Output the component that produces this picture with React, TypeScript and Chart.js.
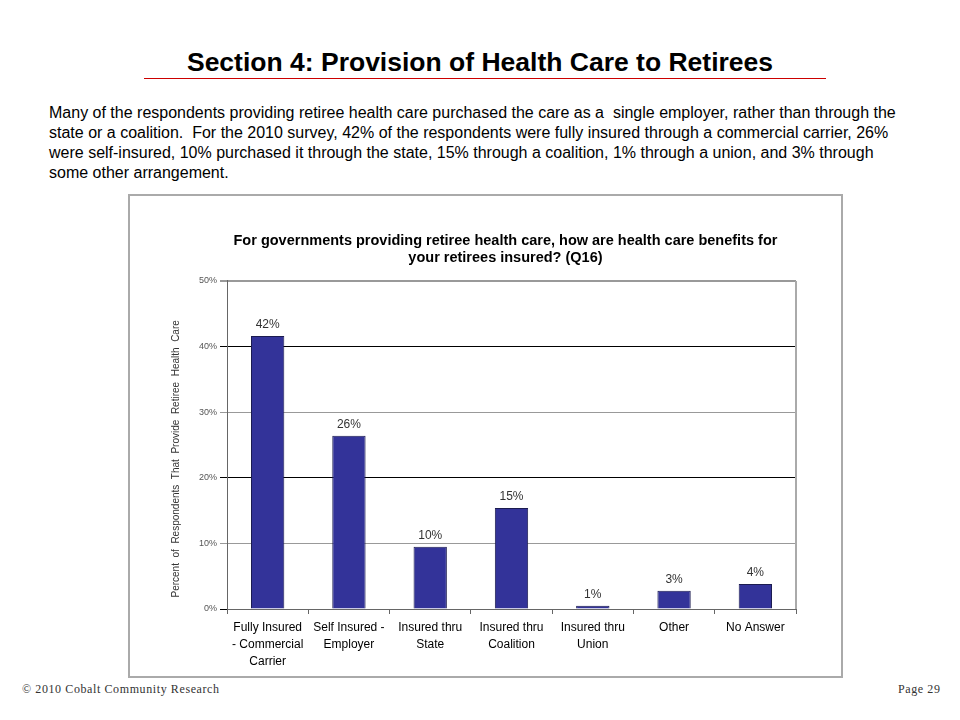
import React, { useEffect, useRef } from "react";
import { Chart, registerables } from "chart.js";

Chart.register(...registerables);

const categories: string[][] = [
  ["Fully Insured", "- Commercial", "Carrier"],
  ["Self Insured -", "Employer"],
  ["Insured thru", "State"],
  ["Insured thru", "Coalition"],
  ["Insured thru", "Union"],
  ["Other"],
  ["No Answer"],
];
const values: number[] = [41.6, 26.4, 9.5, 15.4, 0.5, 2.8, 3.8];
const valueLabels: string[] = ["42%", "26%", "10%", "15%", "1%", "3%", "4%"];
const yTicks: number[] = [0, 10, 20, 30, 40, 50];

const chartTitle = [
  "For governments providing retiree health care, how are health care benefits for   ",
  "your retirees insured? (Q16)   ",
];
const yTitle =
  "Percent  of  Respondents  That  Provide  Retiree  Health  Care          ";

const paragraphLines = [
  "Many of the respondents providing retiree health care purchased the care as a  single employer, rather than through the",
  "state or a coalition.  For the 2010 survey, 42% of the respondents were fully insured through a commercial carrier, 26%",
  "were self-insured, 10% purchased it through the state, 15% through a coalition, 1% through a union, and 3% through",
  "some other arrangement.",
];

const FONT = "'Liberation Sans', Arial, sans-serif";

const labelPlugin = {
  id: "valueLabels",
  afterDatasetsDraw(chart: any) {
    const { ctx } = chart;
    const meta = chart.getDatasetMeta(0);
    ctx.save();
    ctx.font = `12px ${FONT}`;
    ctx.fillStyle = "#333";
    ctx.textAlign = "center";
    ctx.textBaseline = "bottom";
    meta.data.forEach((el: any, i: number) => {
      ctx.fillText(valueLabels[i], el.x, el.y - 5);
    });
    ctx.restore();
  },
};

const borderPlugin = {
  id: "plotRightBorder",
  afterDraw(chart: any) {
    const { ctx, chartArea } = chart;
    ctx.save();
    ctx.strokeStyle = "#aaa";
    ctx.lineWidth = 2;
    ctx.beginPath();
    ctx.moveTo(chartArea.right, chartArea.top);
    ctx.lineTo(chartArea.right, chartArea.bottom);
    ctx.stroke();
    ctx.restore();
  },
};

export default function App() {
  const ref = useRef<HTMLCanvasElement | null>(null);

  useEffect(() => {
    if (!ref.current) return;
    const chart = new Chart(ref.current, {
      type: "bar",
      data: {
        labels: categories,
        datasets: [
          {
            data: values,
            backgroundColor: "#333399",
            borderColor: "#1c1c50",
            borderWidth: 1,
            barPercentage: 0.41,
            categoryPercentage: 1,
          },
        ],
      },
      plugins: [labelPlugin, borderPlugin],
      options: {
        animation: false,
        responsive: false,
        maintainAspectRatio: false,
        layout: { padding: { left: 0, right: 45, top: 0, bottom: 0 } },
        plugins: {
          legend: { display: false },
          tooltip: { enabled: false },
          title: {
            display: true,
            text: chartTitle,
            fullSize: false,
            color: "#000",
            font: { family: FONT, size: 14.5, weight: "bold", lineHeight: 1.17 },
            padding: { top: 36.5, bottom: 14.5 },
          },
        },
        scales: {
          x: {
            afterFit(scale: any) {
              scale.height = 67;
            },
            grid: {
              offset: true,
              drawOnChartArea: false,
              drawTicks: true,
              tickLength: 5,
              color: "#666",
            },
            border: { color: "#666", width: 1 },
            ticks: {
              color: "#000",
              padding: 5,
              maxRotation: 0,
              autoSkip: false,
              font: { family: FONT, size: 12, lineHeight: 1.4167 },
            },
          },
          y: {
            min: 0,
            max: 50,
            afterFit(scale: any) {
              scale.width = 97;
            },
            afterBuildTicks(scale: any) {
              scale.ticks = yTicks.map((v) => ({ value: v }));
            },
            grid: {
              tickLength: 7,
              color: (c: any) =>
                c.tick && c.tick.value % 20 === 0 ? "#000" : "#999",
              lineWidth: (c: any) => (c.tick && c.tick.value === 50 ? 2 : 1),
            },
            border: { color: "#666", width: 1 },
            ticks: {
              color: "#555",
              padding: 3,
              font: { family: FONT, size: 9 },
              callback: (v: any) => `${v}%`,
            },
            title: {
              display: true,
              text: yTitle,
              color: "#333",
              font: { family: FONT, size: 10, lineHeight: 1.2 },
              padding: { top: 40, bottom: 0 },
            },
          },
        },
      },
    });
    return () => chart.destroy();
  }, []);

  return (
    <div
      style={{
        position: "absolute",
        left: 0,
        top: 0,
        width: 960,
        height: 720,
        background: "#fff",
        fontFamily: FONT,
        overflow: "hidden",
      }}
    >
      <div
        style={{
          position: "absolute",
          left: 0,
          top: 46,
          width: 960,
          textAlign: "center",
          fontSize: 26.5,
          fontWeight: "bold",
          lineHeight: "32px",
          color: "#000",
          whiteSpace: "nowrap",
        }}
      >
        Section 4: Provision of Health Care to Retirees
      </div>
      <div
        style={{
          position: "absolute",
          left: 144,
          top: 78,
          width: 682,
          height: 1,
          background: "#cc0000",
        }}
      />
      <div
        style={{
          position: "absolute",
          left: 49,
          top: 103,
          fontSize: 16,
          lineHeight: "20px",
          color: "#000",
          whiteSpace: "pre",
        }}
      >
        {paragraphLines.map((l, i) => (
          <div key={i}>{l}</div>
        ))}
      </div>
      <div
        style={{
          position: "absolute",
          left: 128,
          top: 194,
          width: 711,
          height: 480,
          border: "2px solid #aaa",
          background: "#fff",
        }}
      >
        <canvas
          ref={ref}
          width={711}
          height={480}
          style={{ display: "block", width: 711, height: 480 }}
        />
      </div>
      <div
        style={{
          position: "absolute",
          left: 22,
          top: 682,
          fontFamily: "'Liberation Serif', 'Times New Roman', serif",
          fontSize: 12,
          color: "#333",
          letterSpacing: 0.6,
          whiteSpace: "nowrap",
        }}
      >
        © 2010 Cobalt Community Research
      </div>
      <div
        style={{
          position: "absolute",
          left: 898,
          top: 682,
          fontFamily: "'Liberation Serif', 'Times New Roman', serif",
          fontSize: 12,
          color: "#333",
          letterSpacing: 0.6,
          whiteSpace: "nowrap",
        }}
      >
        Page 29
      </div>
    </div>
  );
}
